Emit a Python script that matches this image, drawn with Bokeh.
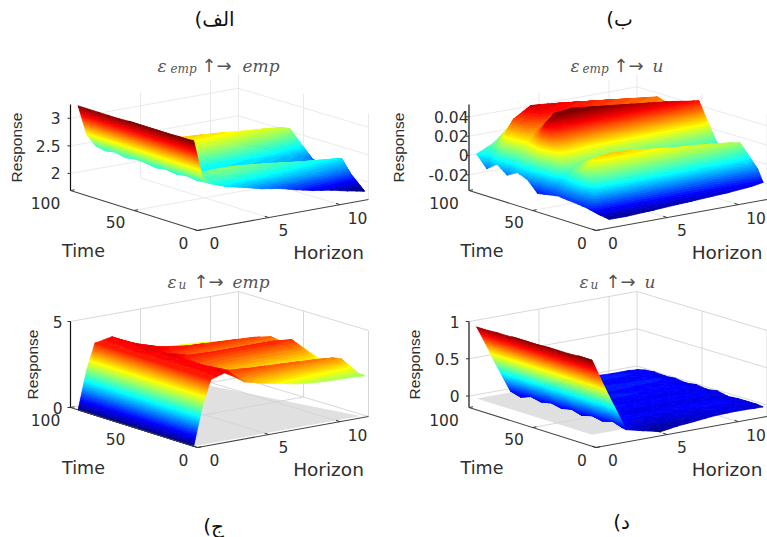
from math import pi
import numpy as np
from bokeh.plotting import figure
from bokeh.embed import file_html
from bokeh.resources import INLINE
from bokeh.core.properties import value

time_rows = [94, 86, 78, 70, 62, 54, 46, 38, 30, 22, 14, 7, 3]
horizon_cols = [0, 0.6, 1.2, 2.4, 3.6, 4.8, 6, 7.2, 8.4, 9.6, 10.8, 11.4, 12]
time_ticks = [100, 50, 0]
horizon_ticks = [0, 5, 10]

z_a = [
 [3.27,2.73,2.50,2.45,2.40,2.35,2.30,2.28,2.25,2.20,2.15,2.12,2.00],
 [3.27,2.72,2.46,2.46,2.43,2.38,2.33,2.30,2.28,2.22,2.18,2.15,2.02],
 [3.27,2.72,2.49,2.50,2.50,2.48,2.45,2.40,2.38,2.33,2.28,2.25,2.05],
 [3.27,2.72,2.45,2.56,2.58,2.56,2.52,2.48,2.45,2.40,2.35,2.30,2.05],
 [3.27,2.72,2.48,2.62,2.68,2.66,2.64,2.60,2.56,2.52,2.45,2.40,2.05],
 [3.28,2.72,2.47,2.72,2.82,2.80,2.78,2.75,2.72,2.70,2.67,2.62,2.07],
 [3.28,2.70,2.44,2.58,2.66,2.64,2.62,2.59,2.55,2.52,2.47,2.42,2.05],
 [3.28,2.68,2.47,2.40,2.42,2.40,2.38,2.36,2.33,2.30,2.25,2.20,2.00],
 [3.28,2.66,2.44,2.38,2.36,2.34,2.32,2.30,2.27,2.24,2.20,2.16,1.95],
 [3.28,2.66,2.47,2.45,2.46,2.44,2.42,2.40,2.36,2.32,2.28,2.24,1.85],
 [3.29,2.65,2.44,2.58,2.58,2.55,2.52,2.48,2.44,2.41,2.38,2.36,1.78],
 [3.29,2.63,2.46,2.46,2.44,2.40,2.36,2.32,2.27,2.23,2.18,2.13,1.80],
 [3.30,2.62,2.46,2.35,2.28,2.20,2.15,2.07,2.00,1.95,1.88,1.85,1.82],
]
z_b = [
 [.004,.008,.012,.028,.040,.041,.040,.038,.036,.033,.030,.028,.024],
 [-.008,.010,.020,.035,.045,.047,.045,.043,.041,.038,.035,.033,.028],
 [.000,.031,.044,.0545,.053,.051,.049,.047,.045,.043,.041,.040,.024],
 [-.008,.030,.042,.050,.050,.048,.046,.044,.042,.040,.038,.037,.020],
 [-.002,.025,.035,.040,.040,.038,.036,.034,.033,.032,.031,.030,.012],
 [-.006,.035,.048,.055,.055,.053,.051,.049,.047,.045,.042,.041,.010],
 [-.017,.055,.063,.065,.063,.061,.059,.057,.055,.053,.050,.049,.008],
 [-.015,.030,.035,.030,.025,.023,.022,.021,.020,.019,.018,.017,.005],
 [-.013,.008,.010,.008,.006,.005,.004,.003,.003,.003,.003,.003,0],
 [-.014,.015,.022,.024,.022,.020,.018,.016,.014,.013,.012,.011,0],
 [-.015,.022,.030,.032,.031,.029,.027,.025,.024,.022,.020,.018,.002],
 [-.016,.005,.008,.008,.007,.006,.005,.004,.003,.002,.001,0,-.008],
 [-.0137,-.0236,-.0293,-.0294,-.0285,-.0276,-.0266,-.0257,-.0248,-.0238,-.0224,-.0214,-.0198],
]
z_c = [
 [0,2.2,3.7,3.9,3.3,2.9,2.75,2.7,2.65,2.55,2.45,2.4,2.3],
 [0,2.2,3.7,3.9,3.4,3.0,2.9,2.85,2.8,2.7,2.6,2.55,2.4],
 [0,2.2,3.7,3.9,3.5,3.1,3.0,3.0,2.95,2.9,2.8,2.7,2.5],
 [0,2.2,3.7,3.95,3.7,3.4,3.3,3.25,3.2,3.15,3.05,2.95,2.5],
 [0,2.2,3.7,4.0,3.8,3.75,3.7,3.65,3.6,3.55,3.4,3.1,2.5],
 [0,2.2,3.7,3.9,3.5,3.3,3.2,3.15,3.1,3.05,3.0,2.9,2.4],
 [0,2.2,3.7,3.95,3.75,3.72,3.7,3.7,3.7,3.7,3.6,3.1,2.39],
 [0,2.2,3.7,3.9,3.5,3.4,3.35,3.3,3.3,3.25,3.2,2.9,2.35],
 [0,2.2,3.7,3.9,3.2,3.0,2.95,2.9,2.85,2.85,2.8,2.65,2.3],
 [0,2.2,3.7,3.9,3.4,3.2,3.15,3.1,3.05,3.0,2.95,2.7,2.3],
 [0,2.2,3.7,3.9,3.6,3.55,3.5,3.45,3.4,3.35,3.27,3.1,2.33],
 [0,2.2,3.7,3.95,3.3,3.1,3.0,2.9,2.8,2.75,2.7,2.6,2.3],
 [0,2.2,3.7,4.0,3.2,2.95,2.75,2.55,2.43,2.38,2.35,2.33,2.3],
]
z_d = [
 [.96,.73,.48,.02,.02,.03,.03,.03,.02,.01,.01,0,-.02],
 [.96,.73,.48,-.02,.02,.03,.04,.04,.03,.03,.02,.01,-.01],
 [.97,.73,.48,.03,.02,.02,.01,.01,0,0,0,-.01,-.02],
 [.97,.73,.48,0,.04,.05,.05,.05,.04,.04,.03,.01,-.01],
 [.98,.73,.48,.03,.03,.03,.02,.01,.01,0,0,-.01,-.03],
 [.98,.73,.48,0,.02,.03,.03,.03,.02,.02,.02,0,-.01],
 [.98,.73,.48,.03,0,-.01,-.01,-.01,-.01,-.01,-.01,-.02,-.03],
 [.99,.73,.48,-.01,.03,.03,.02,.02,.02,.02,.01,-.01,-.01],
 [.99,.73,.48,.03,-.01,-.03,-.03,-.02,-.02,-.02,-.02,-.03,-.04],
 [.99,.73,.48,0,.02,.01,.01,.01,.01,.01,0,-.01,-.03],
 [1,.73,.48,.04,0,-.03,-.03,-.02,-.01,0,0,-.01,-.03],
 [1,.73,.47,0,-.05,-.09,-.07,-.05,-.03,-.02,-.02,-.03,-.03],
 [1,.73,.47,-.015,-.07,-.125,-.09,-.07,-.045,-.035,-.035,-.04,-.04],
]
panels = [
 dict(z=z_a, dx=0,     dy=0,   zlim=(1.69, 3.25),     clim=(1.85, 3.28),  zticks=[2, 2.5, 3],            zlabels=["2","2.5","3"],
      tickx=60,  resp=16,  title=[("ε",157,17),("emp",170,12),("↑→",201,18),("emp",242,17)], floor=False,
      cap="الف)\u200f", capxy=(214,18)),
 dict(z=z_b, dx=398.5, dy=0,   zlim=(-.0363, .0528),  clim=(-.03, .062),  zticks=[-.02, 0, .02, .04],    zlabels=["-0.02","0","0.02","0.04"],
      tickx=468, resp=398, title=[("ε",570,17),("emp",582,12),("↑→",613,18),("u",652,17)], floor=False,
      cap="ب)\u200f", capxy=(619,18)),
 dict(z=z_c, dx=0,     dy=217, zlim=(0, 5),           clim=(0, 4.4),      zticks=[0, 5],                 zlabels=["0","5"],
      tickx=62,  resp=32,  title=[("ε",167,17),("u",178,12),("↑→",193,18),("emp",232,17)], floor=True,
      cap="ج)\u200f", capxy=(213,525)),
 dict(z=z_d, dx=398.5, dy=217, zlim=(-.154, 1),       clim=(-.13, 1),     zticks=[0, .5, 1],             zlabels=["0","0.5","1"],
      tickx=459, resp=414, title=[("ε",579,17),("u",590,12),("↑→",605,18),("u",644,17)], floor=True,
      cap="د)\u200f", capxy=(621,521)),
]

O = np.array([197., 230.]); A = np.array([70., 190.]); H = np.array([368., 199.]); B = np.array([238., 160.])
TMAX, HMAX, ZPX = 100., 12., 86.
INK = "#2e2e2e"

def jet(f):
    f = min(max(f, 0), 1)
    r = min(max(1.5 - abs(4*f - 3), 0), 1); g = min(max(1.5 - abs(4*f - 2), 0), 1); b = min(max(1.5 - abs(4*f - 1), 0), 1)
    return "#%02x%02x%02x" % (int(r*255), int(g*255), int(b*255))

def clip(poly, lev, keep_above):
    out = []
    n = len(poly)
    for i in range(n):
        p, q = poly[i], poly[(i+1) % n]
        pin = p[2] >= lev if keep_above else p[2] <= lev
        qin = q[2] >= lev if keep_above else q[2] <= lev
        if pin:
            out.append(p)
        if pin != qin:
            s = (lev - p[2]) / (q[2] - p[2])
            out.append((p[0]+s*(q[0]-p[0]), p[1]+s*(q[1]-p[1]), lev))
    return out

def make_proj(pn):
    zlo, zhi = pn["zlim"]
    def floor(t, h):
        u, v = t/TMAX, h/HMAX
        return O + u*(A-O) + v*(H-O) + u*v*(B-A-H+O) + np.array([pn["dx"], pn["dy"]])
    def proj(t, h, z):
        f = floor(t, h)
        return f[0], f[1] - (z-zlo)/(zhi-zlo)*ZPX
    return proj

LEVELS = 44
p = figure(width=767, height=537, x_range=(0, 767), y_range=(537, 0), output_backend="svg", toolbar_location=None,
           x_axis_location=None, y_axis_location=None, min_border=0, outline_line_color=None)
p.grid.visible = False
p.background_fill_color = "white"

for pn in panels:
    proj = make_proj(pn)
    zlo, zhi = pn["zlim"]
    # walls and floor grid
    gx, gy = [], []
    def seg(a, b):
        gx.append([a[0], b[0]]); gy.append([a[1], b[1]])
    for zt in pn["zticks"]:
        seg(proj(TMAX, 0, zt), proj(TMAX, HMAX, zt)); seg(proj(TMAX, HMAX, zt), proj(0, HMAX, zt))
    for h in [5, 10]:
        seg(proj(TMAX, h, zlo), proj(TMAX, h, zhi)); seg(proj(0, h, zlo), proj(TMAX, h, zlo))
    for t in [50, 0]:
        seg(proj(t, HMAX, zlo), proj(t, HMAX, zhi))
    seg(proj(50, 0, zlo), proj(50, HMAX, zlo))
    seg(proj(TMAX, HMAX, zlo), proj(TMAX, HMAX, zhi))
    if pn["floor"]:
        cor = [proj(3, 0, 0), proj(3, 11.7, 0), proj(94, 9.5, 0), proj(94, 0, 0)]
        p.patch([c[0] for c in cor], [c[1] for c in cor], fill_color="#e0e0e0", line_color=None)
    p.multi_line(gx, gy, line_color="#e8e8e8" if not pn["floor"] else "#d4d4d4", line_width=0.9)

    # surface
    Z = pn["z"]
    tris = []
    for i in range(len(time_rows)-1):
        for j in range(len(horizon_cols)-1):
            c = [(i, j), (i, j+1), (i+1, j+1), (i+1, j)]
            pts = []
            for a, b in c:
                x, y = proj(time_rows[a], horizon_cols[b], Z[a][b])
                pts.append((x, y, Z[a][b]))
            dep = np.mean([0.4*time_rows[a] + 3.1*horizon_cols[b]/1.2 for a, b in c])
            tris.append((dep, [pts[0], pts[1], pts[2]]))
            tris.append((dep, [pts[0], pts[2], pts[3]]))
    tris.sort(key=lambda e: -e[0])
    c0, c1 = pn["clim"]
    edges = np.linspace(c0, c1, LEVELS+1)
    xs, ys, cols = [], [], []
    for dep, tri in tris:
        zs = [v[2] for v in tri]
        zmin, zmax = min(zs), max(zs)
        for k in range(-1, LEVELS+1):
            lo = edges[k] if k >= 0 else -1e9
            hi = edges[k+1] if k < LEVELS else 1e9
            if k == -1:
                lo, hi = -1e9, edges[0]
            if hi < zmin or lo > zmax:
                continue
            poly = tri
            if zmin < lo:
                poly = clip(poly, lo, True)
            if poly and zmax > hi:
                poly = clip(poly, hi, False)
            if len(poly) < 3:
                continue
            f = (k + 0.5) / LEVELS
            xs.append([v[0] for v in poly]); ys.append([v[1] for v in poly]); cols.append(jet(f))
    p.patches(xs, ys, fill_color=cols, line_color=cols, line_width=0.7)

    # axes
    a0, a1 = proj(TMAX, 0, zlo), proj(TMAX, 0, zhi)
    p.line([a0[0], a1[0]], [a0[1], a1[1]], line_color="#111111", line_width=1.2)
    o, a_, h_ = proj(0, 0, zlo), proj(TMAX, 0, zlo), proj(0, HMAX, zlo)
    p.line([a_[0], o[0], h_[0]], [a_[1], o[1], h_[1]], line_color="#444444", line_width=1.1)
    tx, ty = [], []
    for t in time_ticks:
        q = proj(t, 0, zlo); tx.append([q[0], q[0]+4]); ty.append([q[1], q[1]-0.7])
    for h in horizon_ticks:
        q = proj(0, h, zlo); tx.append([q[0], q[0]-4]); ty.append([q[1], q[1]-1.3])
    for zt in pn["zticks"]:
        q = proj(TMAX, 0, zt); tx.append([q[0], q[0]-3]); ty.append([q[1], q[1]])
    p.multi_line(tx, ty, line_color="#333333", line_width=1)

    # tick labels
    ztx = [pn["tickx"]]*len(pn["zticks"])
    zty = [proj(TMAX, 0, zt)[1] for zt in pn["zticks"]]
    p.text(ztx, zty, text=pn["zlabels"], text_align="right", text_baseline="middle",
           text_font=value("DejaVu Sans"), text_font_size="15.5px", text_color=INK)
    dx, dy = pn["dx"], pn["dy"]
    p.text([45+dx, 115+dx, 183+dx], [202+dy, 221+dy, 242+dy], text=[str(t) for t in time_ticks], text_align="center", text_baseline="middle",
           text_font=value("DejaVu Sans"), text_font_size="15.5px", text_color=INK)
    p.text([214+dx, 283+dx, 357+dx], [242+dy, 229+dy, 217+dy], text=[str(h) for h in horizon_ticks], text_align="center", text_baseline="middle",
           text_font=value("DejaVu Sans"), text_font_size="15.5px", text_color=INK)
    p.text([83+dx], [250+dy], text=["Time"], text_align="center", text_baseline="middle",
           text_font=value("DejaVu Sans"), text_font_size="17.5px", text_color=INK)
    p.text([328+dx], [252+dy], text=["Horizon"], text_align="center", text_baseline="middle",
           text_font=value("DejaVu Sans"), text_font_size="18.5px", text_color=INK)
    p.text([pn["resp"]], [147+dy], text=["Response"], angle=pi/2, text_align="center", text_baseline="middle",
           text_font=value("Liberation Sans"), text_font_size="15.5px", text_color=INK)

    # title pieces
    ty0 = 65 + dy - (1 if dy else 0)
    for s, x, size in pn["title"]:
        sub = size == 12
        p.text([x], [ty0 + (3 if sub else 0)], text=[s], text_align="left", text_baseline="middle",
               text_font=value("DejaVu Sans" if s == "↑→" else "DejaVu Serif"),
               text_font_style="normal" if s == "↑→" else "italic",
               text_font_size="%dpx" % size, text_color="#555555")
    p.text([pn["capxy"][0]], [pn["capxy"][1]], text=[pn["cap"]], text_align="center", text_baseline="middle",
           text_font=value("DejaVu Sans"), text_font_size="20px", text_color="#111111")

open("out.html", "w").write(file_html(p, INLINE))
